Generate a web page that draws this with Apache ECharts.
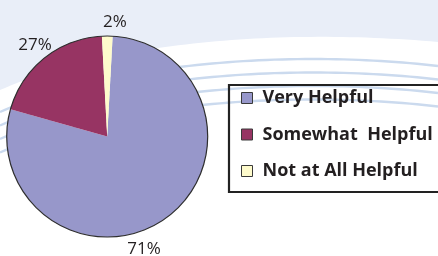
<!DOCTYPE html>
<html>
<head>
<meta charset="utf-8">
<script src="https://cdn.jsdelivr.net/npm/echarts@6/dist/echarts.min.js"></script>
<style>
html,body{margin:0;padding:0;background:#fff;}
#c{width:438px;height:256px;}
</style>
</head>
<body>
<div id="c"></div>
<script>
var categories = ['Very Helpful', 'Somewhat  Helpful', 'Not at All Helpful'];
var sliceShares = [78.5, 19.8, 1.7];
var percentLabels = ['71%', '27%', '2%'];
var sliceColors = ['#9797ca', '#973463', '#fefbcc'];

var chart = echarts.init(document.getElementById('c'), null, {renderer: 'canvas'});

var labelSpots = [[144, 249], [35, 45], [115, 22]];

function bez(p0, p1, p2, p3, n) {
  var pts = [];
  for (var k = 0; k <= n; k++) {
    var t = k / n, u = 1 - t;
    pts.push([
      u*u*u*p0[0] + 3*u*u*t*p1[0] + 3*u*t*t*p2[0] + t*t*t*p3[0],
      u*u*u*p0[1] + 3*u*u*t*p1[1] + 3*u*t*t*p2[1] + t*t*t*p3[1]
    ]);
  }
  return pts;
}

var bgLines = [];
for (var i = 0; i < 4; i++) {
  var d = i * 13.5;
  bgLines.push({
    type: 'polyline', silent: true, z: -5,
    shape: {points: bez([0, 112 + d], [120, 60 + d], [300, 50 + d], [438, 66 + d], 60)},
    style: {stroke: '#cbdaee', lineWidth: 2.4, fill: null}
  });
}
var whitePts = bez([0, 90], [110, 42], [280, 28], [438, 42], 60).concat([[438, 256], [0, 256]]);

var option = {
  backgroundColor: '#ffffff',
  animation: false,
  graphic: [
    {type: 'rect', silent: true, z: -10, shape: {x: 0, y: 0, width: 438, height: 256}, style: {fill: '#e9eef8'}},
    {type: 'polygon', silent: true, z: -9, shape: {points: whitePts}, style: {fill: '#ffffff'}}
  ].concat(bgLines),
  legend: {
    orient: 'vertical',
    left: 229,
    top: 85,
    data: categories,
    icon: 'rect',
    itemWidth: 11,
    itemHeight: 11,
    itemGap: 16.5,
    padding: [3, 70, 11, 12],
    borderColor: '#222',
    borderWidth: 2.2,
    backgroundColor: 'rgba(255,255,255,0)',
    selectedMode: false,
    itemStyle: {borderColor: '#3a3a3a', borderWidth: 1},
    textStyle: {
      fontFamily: 'Open Sans',
      fontWeight: 'bold',
      fontSize: 18,
      lineHeight: 20,
      color: '#231f20',
      padding: [0, 0, 0, 5]
    }
  },
  series: [
    {
      type: 'pie',
      center: [107.2, 136.5],
      radius: 100.5,
      startAngle: 86.9,
      clockwise: true,
      silent: true,
      avoidLabelOverlap: false,
      data: categories.map(function (c, i) {
        return {name: c, value: sliceShares[i], itemStyle: {color: sliceColors[i]}};
      }),
      itemStyle: {borderWidth: 0},
      label: {
        show: true,
        position: 'outside',
        formatter: function (p) { return percentLabels[p.dataIndex]; },
        fontFamily: 'Open Sans',
        fontSize: 17,
        color: '#231f20'
      },
      labelLine: {show: false},
      labelLayout: function (p) {
        var s = labelSpots[p.dataIndex];
        return {x: s[0], y: s[1], align: 'center', verticalAlign: 'middle'};
      }
    },
    {
      type: 'pie',
      center: [107.2, 136.5],
      radius: 100.5,
      silent: true,
      z: 3,
      label: {show: false},
      labelLine: {show: false},
      data: [{name: '_outline', value: 1, itemStyle: {color: 'rgba(0,0,0,0)', borderColor: '#2e2e2e', borderWidth: 1.2}}]
    }
  ]
};
chart.setOption(option);
</script>
</body>
</html>
